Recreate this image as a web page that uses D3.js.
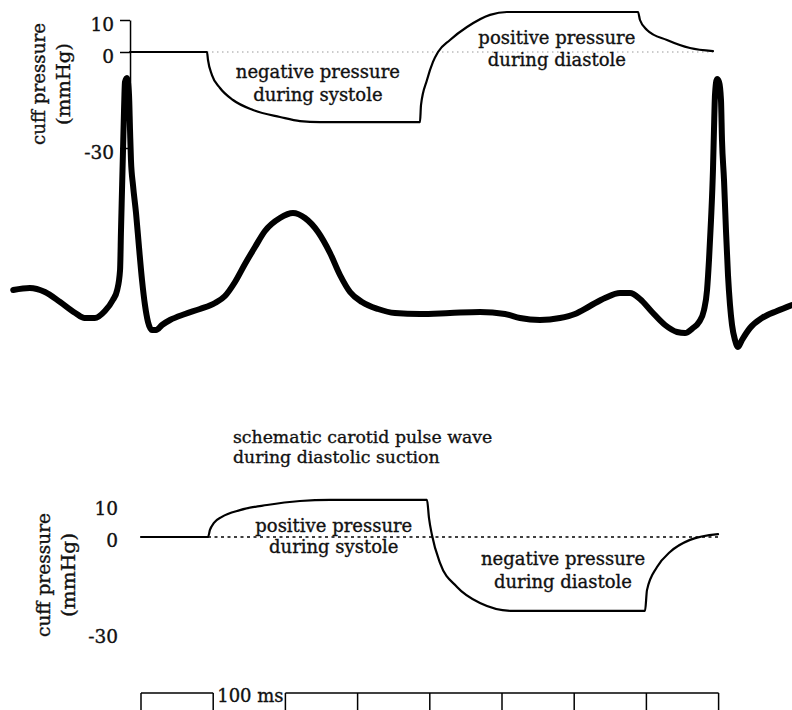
<!DOCTYPE html>
<html lang="en">
<head>
<meta charset="UTF-8">
<title>Diastolic suction – cuff pressure and ECG</title>
<script src="https://d3js.org/d3.v7.min.js"></script>
<style>
  body { margin: 0; background: #fff; }
  svg { display: block; }
  text { font-family: "DejaVu Serif", serif; font-size: 18px; fill: #111; stroke: #111; stroke-width: 0.35px; }
  .trace { fill: none; stroke: #000; stroke-linejoin: round; stroke-linecap: round; }
</style>
</head>
<body>
<script>
// ECG trace: time (ms, 0 = first scale tick) and amplitude (mV, arbitrary baseline)
const ecgTime = [-177, -154, -133, -112, -91, -78, -64, -50, -39, -33, -29, -27.7, -26.3, -24.9, -23.5, -22.2, -19.4, -16.6, -15.2, -13.9, -11.1, -6.9, -2.8, 1.4, 5.5, 9.7, 15.2, 20.8, 29.1, 40.2, 60.9, 81.7, 102.5, 116.3, 130.2, 144, 157.9, 171.7, 192.5, 210.5, 227.1, 245.2, 261.8, 275.6, 289.5, 306.1, 328.3, 351.8, 386.4, 428, 469.5, 504.2, 524.9, 552.6, 580.3, 601.1, 621.9, 642.7, 663.4, 677.3, 691.1, 707.8, 725.8, 742.4, 753.5, 764.5, 772.9, 779.8, 784, 786.7, 789.5, 792.2, 793.6, 795, 797.8, 800.6, 803.3, 804.7, 807.5, 810.2, 813, 815.8, 818.6, 822.7, 826.9, 832.4, 843.5, 860.1, 880.9, 901.7];
const ecgMv = [0.23, 0.25, 0.21, 0.11, 0, -0.05, -0.05, 0.02, 0.13, 0.23, 0.43, 0.83, 1.23, 1.63, 2.03, 2.31, 2.35, 2.18, 1.83, 1.53, 1.28, 1.0, 0.66, 0.33, 0.08, -0.09, -0.17, -0.17, -0.12, -0.07, -0.01, 0.04, 0.10, 0.17, 0.31, 0.49, 0.66, 0.82, 0.95, 1.0, 0.95, 0.81, 0.60, 0.38, 0.21, 0.11, 0.04, 0, -0.01, 0, 0.01, -0.01, -0.05, -0.07, -0.05, -0.01, 0.07, 0.15, 0.20, 0.20, 0.14, 0.01, -0.12, -0.19, -0.20, -0.15, -0.09, 0.03, 0.23, 0.53, 0.93, 1.43, 1.83, 2.18, 2.34, 2.31, 2.13, 1.73, 1.33, 0.83, 0.38, 0.08, -0.12, -0.27, -0.34, -0.27, -0.15, -0.05, 0.02, 0.08];

// upper panel: negative pressure in systole, positive in diastole (mmHg)
const cuffTopTime = [-15.2, 91.4, 92.8, 98.3, 109.4, 127.4, 155.1, 192.5, 220.2, 247.9, 386.4, 387.8, 396.1, 404.4, 411.4, 428, 451.5, 483.4, 506.9, 688.4, 691.1, 700.8, 728.5, 760.4, 792.2];
const cuffTopMmHg = [0, 0, -2.5, -7.2, -11.25, -15, -18.1, -20.3, -21.6, -21.9, -21.9, -16.6, -8.75, -3.1, 0, 3.75, 7.8, 11.6, 12.5, 12.5, 10, 6.9, 3.75, 1.25, 0.3];

// lower panel: positive pressure in systole, negative in diastole (mmHg)
const cuffBotTime = [0, 92.8, 95.5, 101, 112, 137.1, 174.5, 220.2, 261.8, 396.1, 398.9, 403, 414.1, 437.7, 469.5, 515.2, 698.1, 700.8, 714.7, 732.7, 760.4, 799.2];
const cuffBotMmHg = [0, 0, 2.2, 4.4, 6.3, 8.4, 10, 11.25, 11.6, 11.6, 5.9, 0.6, -8.1, -15.6, -20.6, -23.1, -23.1, -16.6, -9.4, -4.7, -0.9, 0.9];

const pressureTicks = [10, 0, -30];
const scaleTicks = [0, 100, 200, 300, 400, 500, 600, 700, 800];

const width = 792, height = 710;
const svg = d3.select("body").append("svg")
    .attr("width", width)
    .attr("height", height);

const x = d3.scaleLinear().domain([0, 800]).range([141, 718.6]);
const yTop = d3.scaleLinear().domain([-30, 10]).range([148, 20]);
const yBot = d3.scaleLinear().domain([-30, 10]).range([633, 505]);
const yEcg = d3.scaleLinear().domain([0, 1]).range([313, 213]);

const zip = (a, b) => a.map((d, i) => [d, b[i]]);

// ---- upper panel axis
const axisTop = svg.append("g")
    .attr("transform", `translate(${x(-15.2)},0)`)
    .call(d3.axisLeft(yTop)
        .tickValues(pressureTicks)
        .tickFormat(d => String(d))
        .tickSize(10).tickSizeOuter(0).tickPadding(6));
axisTop.select(".domain").attr("stroke", "#000").attr("stroke-width", 1.5);
axisTop.selectAll(".tick line").attr("stroke", "#000").attr("stroke-width", 1.5);
axisTop.selectAll(".tick text")
    .attr("dy", "0.55em")
    .style("font-family", '"DejaVu Serif", serif')
    .style("font-size", "18.5px")
    .attr("fill", "#111");

// dotted zero lines
svg.append("line")
    .attr("x1", x(91.4)).attr("x2", x(792.2))
    .attr("y1", yTop(0)).attr("y2", yTop(0))
    .attr("stroke", "#999").attr("stroke-width", 1.2)
    .attr("stroke-dasharray", "1.5,3.5");

svg.append("line")
    .attr("x1", x(92.8)).attr("x2", x(799.2))
    .attr("y1", yBot(0)).attr("y2", yBot(0))
    .attr("stroke", "#000").attr("stroke-width", 1.5)
    .attr("stroke-dasharray", "3,3.5");

// cuff pressure traces
const lineTop = d3.line().x(d => x(d[0])).y(d => yTop(d[1])).curve(d3.curveMonotoneX);
const lineBot = d3.line().x(d => x(d[0])).y(d => yBot(d[1])).curve(d3.curveMonotoneX);

svg.append("path")
    .attr("class", "trace")
    .attr("stroke-width", 2.2)
    .attr("d", lineTop(zip(cuffTopTime, cuffTopMmHg)));

svg.append("path")
    .attr("class", "trace")
    .attr("stroke-width", 2.2)
    .attr("d", lineBot(zip(cuffBotTime, cuffBotMmHg)));

// ECG
const lineEcg = d3.line().x(d => x(d[0])).y(d => yEcg(d[1])).curve(d3.curveMonotoneX);
svg.append("path")
    .attr("class", "trace")
    .attr("stroke-width", 6)
    .attr("d", lineEcg(zip(ecgTime, ecgMv)));

// lower panel tick labels (no axis line)
svg.append("g").selectAll("text")
    .data(pressureTicks)
    .join("text")
    .attr("x", 118)
    .attr("y", d => yBot(d))
    .attr("dy", "0.55em")
    .attr("text-anchor", "end")
    .style("font-size", "18.5px")
    .text(d => String(d));

// axis titles (the print is a little stretched vertically)
function yTitle(cx, cy, gap, len1, len2) {
    const g = svg.append("g").attr("transform", `translate(${cx},${cy}) rotate(-90)`);
    g.append("text").attr("text-anchor", "middle").attr("y", 0)
        .attr("textLength", len1).attr("lengthAdjust", "spacingAndGlyphs")
        .text("cuff pressure");
    g.append("text").attr("text-anchor", "middle").attr("y", gap)
        .attr("textLength", len2).attr("lengthAdjust", "spacingAndGlyphs")
        .text("(mmHg)");
}
yTitle(45, 84, 25, 122, 82);
yTitle(50, 575, 25, 124, 84);

// annotations
function note(cx, baseline, lines, lead, anchor) {
    const t = svg.append("text").attr("text-anchor", anchor || "middle");
    lines.forEach((s, i) => {
        t.append("tspan").attr("x", cx).attr("y", baseline + i * lead).text(s);
    });
    return t;
}
note(x(245), yTop(-8.1), ["negative pressure", "during systole"], 23);
note(x(576), yTop(2.5), ["positive pressure", "during diastole"], 22);
note(x(267), yBot(1.6), ["positive pressure", "during systole"], 21);
note(x(584.5), yBot(-8.75), ["negative pressure", "during diastole"], 23);
note(x(127.4), 443, ["schematic carotid pulse wave", "during diastolic suction"], 20, "start")
    .style("font-size", "17.3px");

// time scale bar: 100 ms per division
const barY = 693;
svg.append("g").selectAll("line")
    .data(scaleTicks)
    .join("line")
    .attr("x1", d => x(d)).attr("x2", d => x(d))
    .attr("y1", barY).attr("y2", barY + 20)
    .attr("stroke", "#000").attr("stroke-width", 1.5);

svg.append("line")
    .attr("x1", x(0)).attr("x2", x(100))
    .attr("y1", barY).attr("y2", barY)
    .attr("stroke", "#000").attr("stroke-width", 1.5);
svg.append("line")
    .attr("x1", x(200)).attr("x2", x(800))
    .attr("y1", barY).attr("y2", barY)
    .attr("stroke", "#000").attr("stroke-width", 1.5);

svg.append("text")
    .attr("x", x(100) + 4)
    .attr("y", 702)
    .text("100 ms");
</script>
</body>
</html>
